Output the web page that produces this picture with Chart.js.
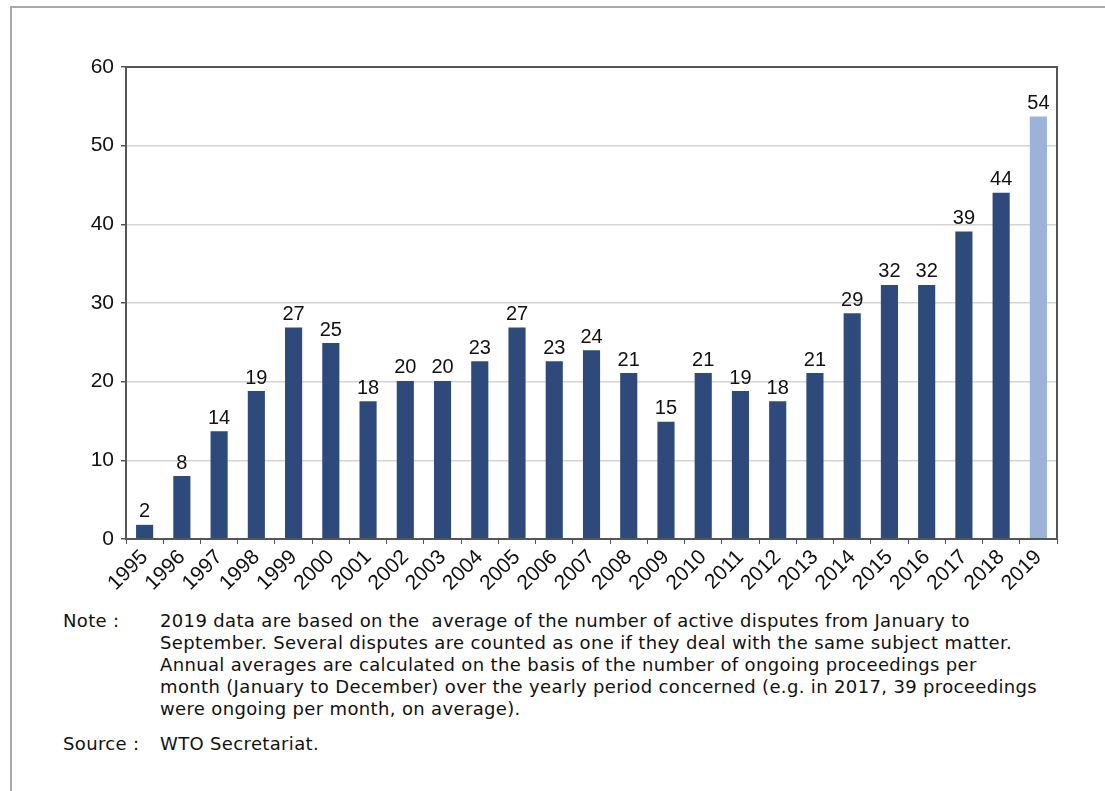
<!DOCTYPE html>
<html>
<head>
<meta charset="utf-8">
<script src="https://cdn.jsdelivr.net/npm/chart.js@4.4.0/dist/chart.umd.min.js"></script>
<style>
    html, body { margin: 0; padding: 0; background: #fff; }
    body { width: 1105px; height: 791px; position: relative; overflow: hidden; }
    #frame { position: absolute; left: 10px; top: 6px; right: 0; bottom: 0;
             border-top: 2px solid #a8a8a8; border-left: 2px solid #a8a8a8; }
    #chartBox { position: absolute; left: 0; top: 0; width: 1105px; height: 600px; }
    .nota { position: absolute; font-family: "DejaVu Sans", sans-serif; font-size: 18px;
            letter-spacing: 0.35px; color: #111; line-height: 22px; white-space: pre; }
</style>
</head>
<body>
<div id="frame"></div>
<div id="chartBox"><canvas id="disputas"></canvas></div>
<div class="nota" style="left:63px; top:610px;">Note :</div>
<div class="nota" style="left:160px; top:610px;">2019 data are based on the  average of the number of active disputes from January to
September. Several disputes are counted as one if they deal with the same subject matter.
Annual averages are calculated on the basis of the number of ongoing proceedings per
month (January to December) over the yearly period concerned (e.g. in 2017, 39 proceedings
were ongoing per month, on average).</div>
<div class="nota" style="left:63px; top:733px;">Source :</div>
<div class="nota" style="left:160px; top:733px;">WTO Secretariat.</div>
<script>
// Promedio anual de disputas activas
const anios = ['1995', '1996', '1997', '1998', '1999', '2000', '2001', '2002', '2003', '2004',
    '2005', '2006', '2007', '2008', '2009', '2010', '2011', '2012', '2013', '2014',
    '2015', '2016', '2017', '2018', '2019'];
const disputas = [1.8, 8.0, 13.7, 18.8, 26.9, 24.9, 17.5, 20.1, 20.1, 22.6,
    26.9, 22.6, 24.0, 21.1, 14.9, 21.1, 18.8, 17.5, 21.1, 28.7,
    32.3, 32.3, 39.1, 44.0, 53.7];
const ticksY = [0, 10, 20, 30, 40, 50, 60];

const azulOscuro = '#2E4A7B';
const azulClaro = '#9CB2D6';
const colores = anios.map(a => a === '2019' ? azulClaro : azulOscuro);

// Etiquetas de valor sobre cada barra
const etiquetasValor = {
    id: 'etiquetasValor',
    afterDatasetsDraw(chart) {
        const ctx = chart.ctx;
        const meta = chart.getDatasetMeta(0);
        ctx.save();
        ctx.font = '20px "Liberation Sans", Arial, sans-serif';
        ctx.fillStyle = '#111';
        ctx.textAlign = 'center';
        ctx.textBaseline = 'bottom';
        meta.data.forEach((bar, i) => {
            ctx.fillText(Math.round(disputas[i]), bar.x, bar.y - 3);
        });
        ctx.restore();
    }
};

// Marco del área de trazado
const marco = {
    id: 'marco',
    afterDraw(chart) {
        const a = chart.chartArea;
        const ctx = chart.ctx;
        ctx.save();
        ctx.strokeStyle = '#555';
        ctx.lineWidth = 2;
        ctx.strokeRect(a.left, a.top, a.right - a.left, a.bottom - a.top);
        ctx.restore();
    }
};

const fuente = { family: '"Liberation Sans", Arial, sans-serif', size: 21 };

new Chart(document.getElementById('disputas').getContext('2d'), {
    type: 'bar',
    data: {
        labels: anios,
        datasets: [{
            data: disputas,
            backgroundColor: colores,
            barPercentage: 0.46,
            categoryPercentage: 1.0
        }]
    },
    options: {
        responsive: true,
        maintainAspectRatio: false,
        animation: false,
        layout: { padding: { left: 0, top: 67, right: 48, bottom: 0 } },
        plugins: { legend: { display: false }, tooltip: { enabled: false } },
        scales: {
            x: {
                offset: true,
                grid: { drawOnChartArea: false, drawTicks: true, tickLength: 5, tickColor: '#555', offset: true },
                border: { display: true, color: '#555', width: 2 },
                ticks: { color: '#111', font: fuente, maxRotation: 45, minRotation: 45, autoSkip: false, padding: 1 },
                afterFit(s) { s.height = 61; }
            },
            y: {
                min: 0,
                max: 60,
                afterBuildTicks(s) { s.ticks = ticksY.map(v => ({ value: v })); },
                grid: { color: '#d4d4d4', lineWidth: 1.5, tickLength: 5, tickColor: '#555' },
                border: { display: true, color: '#555', width: 2 },
                ticks: { color: '#111', font: fuente, padding: 7 },
                afterFit(s) { s.width = 126; }
            }
        }
    },
    plugins: [etiquetasValor, marco]
});
</script>
</body>
</html>
